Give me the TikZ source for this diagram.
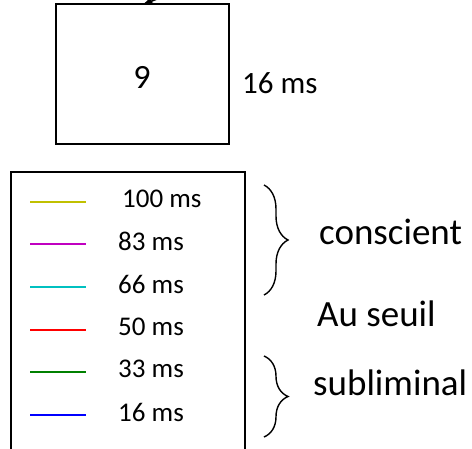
\documentclass[tikz,border=0pt]{standalone}
\usepackage{fontspec}
\setmainfont{Carlito}
\usetikzlibrary{arrows.meta,decorations.pathreplacing}
\definecolor{cyel}{HTML}{C0C000}
\definecolor{cmag}{HTML}{C000C0}
\definecolor{ccya}{HTML}{00C0C0}
\definecolor{cred}{HTML}{FF0000}
\definecolor{cgre}{HTML}{008000}
\definecolor{cblu}{HTML}{0000FF}
\tikzset{
  frame/.style={draw=black, line width=1.4pt},
  legline/.style={line width=2.8pt},
  legtext/.style={anchor=west, inner sep=0pt, font=\fontsize{27}{27}\selectfont},
  bigtext/.style={anchor=west, inner sep=0pt, font=\fontsize{37}{37}\selectfont},
  bracestyle/.style={draw, line width=1.4pt, decorate, decoration={brace, amplitude=24pt, aspect=0.5}}
}
\begin{document}
\begin{tikzpicture}[x=1pt, y=-1pt]
\useasboundingbox (0,0) rectangle (472,448);
% top box
\node[frame, minimum width=173pt, minimum height=140pt, inner sep=0pt] (box) at (142.5,74) {};
\node[inner sep=0pt, font=\fontsize{34}{34}\selectfont] (nine) at (142,77) {9};
\node[inner sep=0pt, anchor=west, font=\fontsize{31}{31}\selectfont] (dur) at (242,83) {16 ms};
\coordinate (arrstart) at (190,-14);
\coordinate (arrend) at (143,4.5);
\draw[line width=1.6pt, -{Stealth[length=12pt,width=9pt]}] (arrstart) -- (arrend);
% legend box
\draw[frame] (11,460) -- (11,172) -- (245,172) -- (245,460);
\foreach \y/\c/\t/\xx in {202/cyel/100 ms/122, 244/cmag/83 ms/118, 287/ccya/66 ms/118, 330/cred/50 ms/118, 372/cgre/33 ms/118, 415/cblu/16 ms/118}{
  \coordinate (a\y) at (30,\y);
  \coordinate (b\y) at (86,\y);
  \draw[legline, \c] (a\y) -- (b\y);
  \node[legtext] (t\y) at (\xx,\y-3) {\t};
}
% braces
\coordinate (b1s) at (264,185);
\coordinate (b1e) at (264,295);
\draw[bracestyle] (b1s) -- (b1e);
\coordinate (b2s) at (264,356);
\coordinate (b2e) at (264,437);
\draw[bracestyle] (b2s) -- (b2e);
\node[bigtext] (consc) at (319,232) {conscient};
\node[bigtext] (seuil) at (317,314) {Au seuil};
\node[bigtext] (subl) at (313,383) {subliminal};
\end{tikzpicture}
\end{document}
